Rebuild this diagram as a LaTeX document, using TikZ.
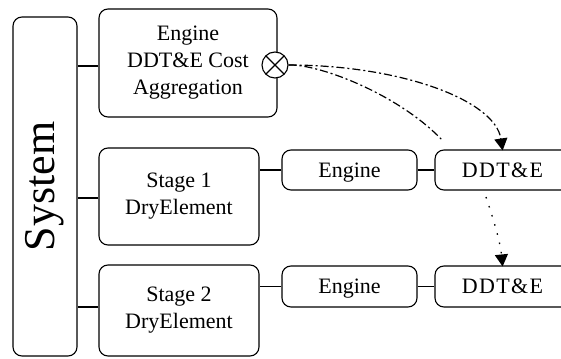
\documentclass[tikz,border=0pt]{standalone}
\usepackage{fontspec}
\setmainfont{Liberation Serif}
\newfontfamily\spacedfont[LetterSpace=6]{Liberation Serif}
\usetikzlibrary{arrows.meta}
\begin{document}
\begin{tikzpicture}[x=1pt,y=-1pt,line width=1.1pt,
  box/.style={draw=black,fill=white,rounded corners=9pt,inner sep=0pt,align=center,font=\fontsize{22}{27}\selectfont},
  rowbox/.style={box,minimum width=135pt,text height=19pt,text depth=5pt},
  conn/.style={draw=black,line width=1.1pt},
  dashdot/.style={line width=1.2pt,dash pattern=on 8pt off 3pt on 2pt off 3pt},
  dotline/.style={line width=1.3pt,dash pattern=on 1.5pt off 8pt},
  tip/.style={-{Triangle[width=13pt,length=12pt,sep=0pt]},shorten >=-1pt}
]
\useasboundingbox (0,0) rectangle (561,358);

\node[box,rotate=90,minimum width=339pt,minimum height=64pt,font=\fontsize{44}{50}\selectfont] (sys) at (45,186.5) {System};

\node[box,minimum width=178pt,minimum height=108pt] (agg) at (188,63) {Engine\\DDT\&E Cost\\Aggregation};
\node[box,minimum width=160pt,minimum height=97pt] (s1) at (179,196.5) {Stage 1\\DryElement};
\node[box,minimum width=160pt,minimum height=91pt] (s2) at (179,310.5) {Stage 2\\DryElement};

\node[rowbox,minimum height=40pt] (e1) at (349.5,170) {Engine};
\node[rowbox,minimum height=40pt] (d1) at (502.5,170) {\spacedfont DDT\&E};
\node[rowbox,minimum height=41pt] (e2) at (349.5,286.5) {Engine};
\node[rowbox,minimum height=41pt] (d2) at (502.5,286.5) {\spacedfont DDT\&E};

\node[circle,draw=black,fill=white,minimum size=26pt,inner sep=0pt,
  path picture={
    \draw ([shift={(45:13pt)}]path picture bounding box.center) -- ([shift={(225:13pt)}]path picture bounding box.center);
    \draw ([shift={(135:13pt)}]path picture bounding box.center) -- ([shift={(315:13pt)}]path picture bounding box.center);
  }] (agx) at (275,65) {};

% connectors
\draw[conn] (agg.west |- 0,66) -- (sys.south |- 0,66);
\draw[conn] (s1.west |- 0,198) -- (sys.south |- 0,198);
\draw[conn] (s2.west |- 0,307) -- (sys.south |- 0,307);
\draw[conn] (e1.west) -- (e1.west -| s1.east);
\draw[conn] (e2.west) -- (e2.west -| s2.east);
\draw[conn] (e1.east) -- (d1.west);
\draw[conn] (e2.east) -- (d2.west);

% dependency curves
\coordinate (cb1) at (443,141);
\coordinate (cb2) at (486,197);
\draw[dashdot,tip] (agx.east) .. controls (400,65) and (495,100) .. (d1.north);
\draw[dashdot] (agx.east) .. controls (320,64) and (400,95) .. (cb1);
\draw[dotline,tip] (cb2) .. controls (492,215) and (500,240) .. (d2.north);
\end{tikzpicture}
\end{document}
